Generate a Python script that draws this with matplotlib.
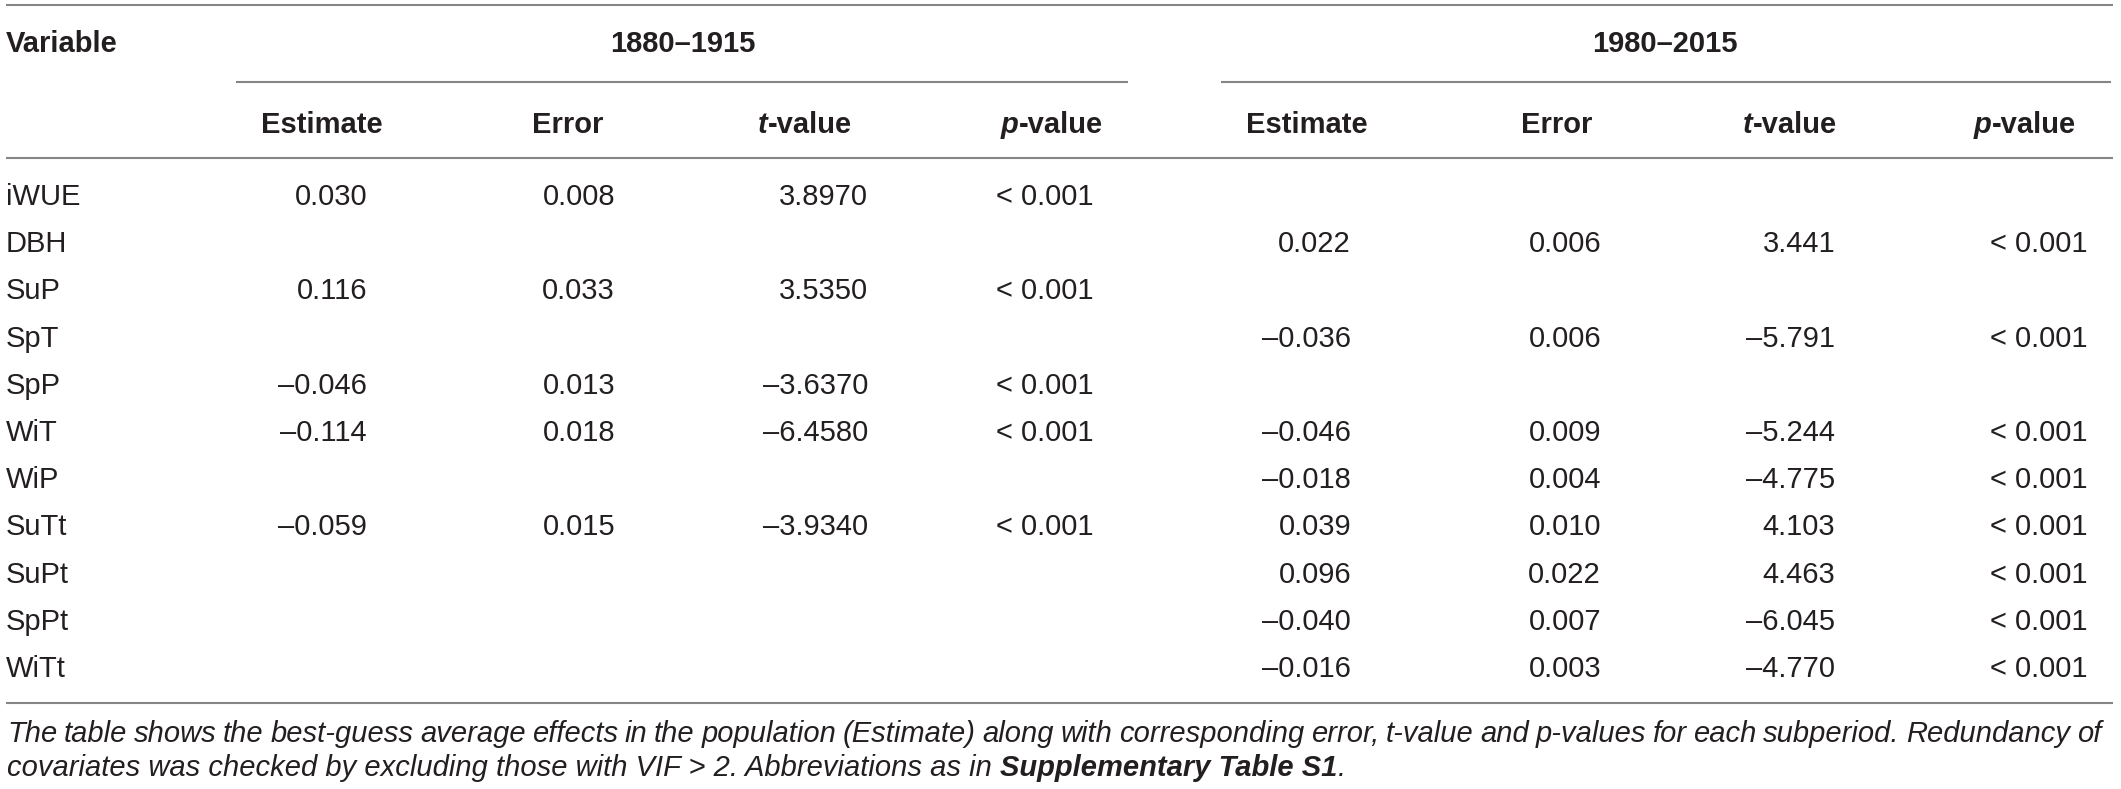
import matplotlib
matplotlib.use("Agg")
import matplotlib.pyplot as plt

plt.rcParams["font.family"] = ["Liberation Sans", "DejaVu Sans"]

# ---- data ----
variables = ["iWUE", "DBH", "SuP", "SpT", "SpP", "WiT", "WiP", "SuTt", "SuPt", "SpPt", "WiTt"]
periods = ["1880\u20131915", "1980\u20132015"]
col_names = ["Estimate", "Error", "t-value", "p-value"]

est_1880 = [0.030, None, 0.116, None, -0.046, -0.114, None, -0.059, None, None, None]
err_1880 = [0.008, None, 0.033, None, 0.013, 0.018, None, 0.015, None, None, None]
t_1880 = [3.8970, None, 3.5350, None, -3.6370, -6.4580, None, -3.9340, None, None, None]
p_1880 = ["< 0.001", None, "< 0.001", None, "< 0.001", "< 0.001", None, "< 0.001", None, None, None]

est_1980 = [None, 0.022, None, -0.036, None, -0.046, -0.018, 0.039, 0.096, -0.040, -0.016]
err_1980 = [None, 0.006, None, 0.006, None, 0.009, 0.004, 0.010, 0.022, 0.007, 0.003]
t_1980 = [None, 3.441, None, -5.791, None, -5.244, -4.775, 4.103, 4.463, -6.045, -4.770]
p_1980 = [None, "< 0.001", None, "< 0.001", None, "< 0.001", "< 0.001", "< 0.001", "< 0.001", "< 0.001", "< 0.001"]

footnote_1 = ("The table shows the best-guess average effects in the population (Estimate) along with "
              "corresponding error, t-value and p-values for each subperiod. Redundancy of")
footnote_2 = [("covariates was checked by excluding those with VIF > 2. Abbreviations as in ", "normal"),
              ("Supplementary Table S1", "bold"), (".", "normal")]

W, H = 2121, 789
TXT = "#231f20"
RULE = "#858585"
FS = 21

fig = plt.figure(figsize=(W / 100, H / 100), dpi=100)
ax = fig.add_axes([0, 0, 1, 1])
ax.set_xlim(0, W)
ax.set_ylim(H, 0)
ax.axis("off")
renderer = fig.canvas.get_renderer()


def fmt(v, nd):
    if v is None:
        return ""
    return f"{v:.{nd}f}".replace("-", "\u2013")


def pieces(x, y, parts, ha="left", size=FS):
    # runs of text with different weights/styles placed side by side
    objs, widths = [], []
    for s, w, st in parts:
        t = ax.text(0, y, s, fontsize=size, fontweight=w, fontstyle=st, color=TXT, va="baseline")
        objs.append(t)
        widths.append(t.get_window_extent(renderer).width)
    total = sum(widths)
    start = x - total if ha == "right" else (x - total / 2 if ha == "center" else x)
    for t, w in zip(objs, widths):
        t.set_x(start)
        start += w
    return total


def rule(x0, x1, y):
    ax.plot([x0, x1], [y, y], color=RULE, lw=1.5, solid_capstyle="butt")


# rules
rule(6, 2113, 5)
rule(236, 1128, 82)
rule(1221, 2111, 82)
rule(6, 2113, 158)
rule(6, 2113, 703)

# header
ax.text(6, 52, "Variable", fontsize=FS, fontweight="bold", color=TXT, va="baseline")
ax.text(683, 52, periods[0], fontsize=FS, fontweight="bold", color=TXT, va="baseline", ha="center")
ax.text(1665, 52, periods[1], fontsize=FS, fontweight="bold", color=TXT, va="baseline", ha="center")

head_x = [[322, 568, 805, 1052], [1307, 1557, 1790, 2025]]
for hx in head_x:
    pieces(hx[0], 133, [(col_names[0], "bold", "normal")], ha="center")
    pieces(hx[1], 133, [(col_names[1], "bold", "normal")], ha="center")
    pieces(hx[2], 133, [("t", "bold", "italic"), (col_names[2][1:], "bold", "normal")], ha="center")
    pieces(hx[3], 133, [("p", "bold", "italic"), (col_names[3][1:], "bold", "normal")], ha="center")

# body
row_y0, row_dy = 205, 47.2
right_x = [[367, 615, 868, 1093], [1351, 1601, 1835, 2087]]
cols = [[est_1880, err_1880, t_1880, p_1880], [est_1980, err_1980, t_1980, p_1980]]
tdig = [4, 3]
for i, var in enumerate(variables):
    y = row_y0 + i * row_dy
    ax.text(6, y, var, fontsize=FS, color=TXT, va="baseline")
    for g in range(2):
        est, err, tv, pv = cols[g]
        vals = [fmt(est[i], 3), fmt(err[i], 3), fmt(tv[i], tdig[g]), pv[i] or ""]
        for x, s in zip(right_x[g], vals):
            if s:
                ax.text(x, y, s, fontsize=FS, color=TXT, va="baseline", ha="right")

# footnote, first line justified to the table width
words = footnote_1.split(" ")
left, right = 7, 2101
objs = [ax.text(0, 742, w, fontsize=FS, fontstyle="italic", color=TXT, va="baseline") for w in words]
wid = [t.get_window_extent(renderer).width for t in objs]
gap = (right - left - sum(wid)) / (len(words) - 1)
xpos = left
for t, w in zip(objs, wid):
    t.set_x(xpos)
    xpos += w + gap

pieces(left, 776, [(s, w, "italic") for s, w in footnote_2])

fig.savefig("out.png", dpi=100)
